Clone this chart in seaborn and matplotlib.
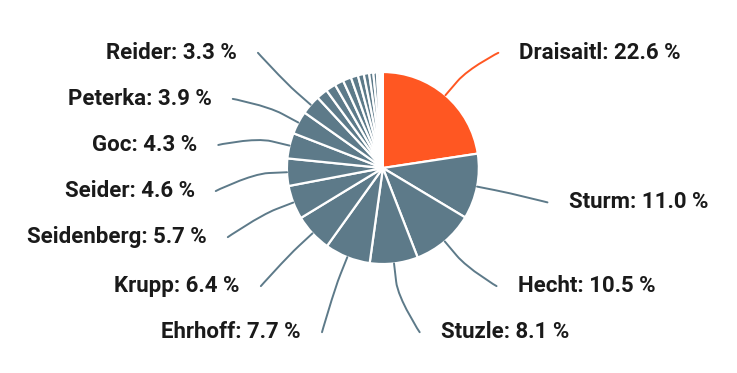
import numpy as np
import matplotlib.pyplot as plt
from matplotlib.path import Path
from matplotlib.patches import PathPatch
import seaborn as sns

# Data: share of points per player (in %)
players = ["Draisaitl", "Sturm", "Hecht", "Stuzle", "Ehrhoff", "Krupp",
           "Seidenberg", "Seider", "Goc", "Peterka", "Reider"]
shares = [22.6, 11.0, 10.5, 8.1, 7.7, 6.4, 5.7, 4.6, 4.3, 3.9, 3.3]
# remaining players without a label
small_shares = [1.9, 1.7, 1.5, 1.4, 1.2, 1.0, 0.9, 0.7, 0.6, 0.4, 0.3, 0.2, 0.1]

sns.set_theme(style="white")
plt.rcParams["font.family"] = ["Roboto", "DejaVu Sans"]

orange = "#FF5722"
grey = "#5D7A89"

values = shares + small_shares
colors = [orange] + [grey] * (len(values) - 1)

fig = plt.figure(figsize=(7.37, 3.73), dpi=100)
ax = fig.add_axes([0, 0, 1, 1])
wedges, _ = ax.pie(values, startangle=90, counterclock=False, colors=colors,
                   radius=1.0, wedgeprops=dict(edgecolor="white", linewidth=1.6))
ax.set_xlim(-3.99, 3.69)
ax.set_ylim(-2.135, 1.75)
ax.set_aspect("auto")
ax.axis("off")

# label layout (spread labels vertically per side)
mids = []
for w in wedges[:len(shares)]:
    mids.append(np.deg2rad((w.theta1 + w.theta2) / 2))

ymax, ymin, gap = 1.2, -1.71, 0.48
sides = {1: [], -1: []}
for i, a in enumerate(mids):
    side = 1 if np.cos(a) >= 0 else -1
    sides[side].append([i, np.clip(1.85 * np.sin(a), ymin, ymax)])

label_y = {}
for side, items in sides.items():
    items.sort(key=lambda t: -t[1])
    for k in range(1, len(items)):
        if items[k - 1][1] - items[k][1] < gap:
            items[k][1] = items[k - 1][1] - gap
    if items and items[-1][1] < ymin:
        items[-1][1] = ymin
        for k in range(len(items) - 2, -1, -1):
            if items[k][1] - items[k + 1][1] < gap:
                items[k][1] = items[k + 1][1] + gap
    for i, y in items:
        label_y[i] = y

D = 1.97
for i, a in enumerate(mids):
    side = 1 if np.cos(a) >= 0 else -1
    y = label_y[i]
    x = side * (0.5 * np.sqrt(max(D ** 2 - y ** 2, 0)) + 0.5 * abs(np.cos(a)) * D)
    col = colors[i]
    # soft connector: straight from slice edge, then curve into the label
    u = np.array([np.cos(a), np.sin(a)])
    touch = u * 1.0
    brk = u * 1.19
    lab = np.array([x - side * 0.22, y])
    path = Path([lab, lab, 2 * brk - touch, brk, touch],
                [Path.MOVETO, Path.CURVE4, Path.CURVE4, Path.CURVE4, Path.LINETO])
    ax.add_patch(PathPatch(path, fill=False, edgecolor=col, linewidth=1.4,
                           capstyle="round"))
    ax.text(x, y, f"{players[i]}: {shares[i]:.1f} %", ha="left" if side > 0 else "right",
            va="center", fontsize=16, fontweight="bold", color="#1a1a1a")

fig.savefig("out.png", dpi=100)
